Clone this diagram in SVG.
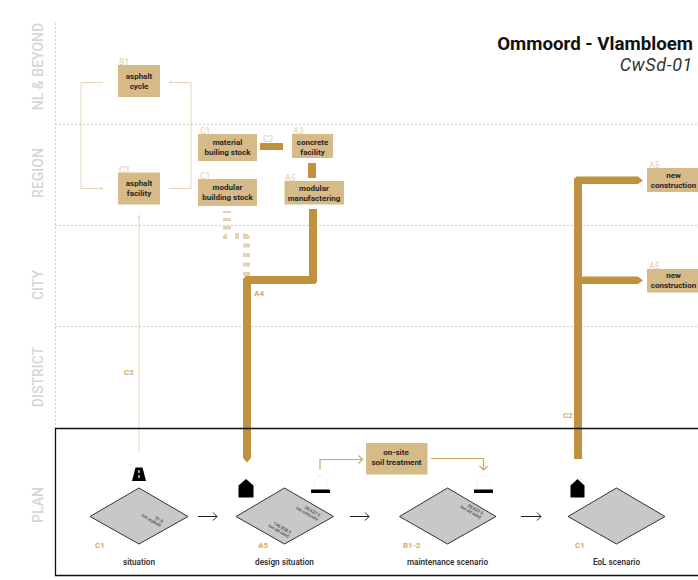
<svg xmlns="http://www.w3.org/2000/svg" width="698" height="580" viewBox="0 0 698 580">
<style>
text{font-family:Roboto,"Liberation Sans",sans-serif}
.scale{font-size:14px;font-weight:500;fill:#d6d6d6;text-anchor:middle}
.box{fill:#d6bb88}
.nt{font-size:8px;font-weight:700;fill:#262626;text-anchor:middle}
.pale{font-size:8.5px;font-weight:500;fill:#e6d8bd}
.lab{font-size:8px;font-weight:700;fill:#d2ab68}
.cap{font-size:8.2px;font-weight:600;fill:#333;text-anchor:middle}
.dia{fill:#c8c8c8;stroke:#333;stroke-width:1}
.q{font-size:4.4px;font-weight:500;fill:#444;text-anchor:end}
.grid{stroke:#cfcfcf;stroke-width:1;stroke-dasharray:2 2;fill:none}
.thin{fill:none;stroke:#e8d7b6;stroke-width:1}
.thick{fill:#c0923f}
.mid{fill:none;stroke:#cda65f;stroke-width:1.2}
.stepr{fill:none;stroke:#222;stroke-width:1}
.ghost{fill:none;stroke:#dedede;stroke-width:.8;stroke-dasharray:1.5 1.5}
</style>
<g id="scale-grid">
<path class="grid" d="M55.5 23V428M55 124.500H698M55 225.500H698M55 326.500H698"/>
<text class="scale" transform="translate(43 66.500) rotate(-90)">NL &amp; BEYOND</text>
<text class="scale" transform="translate(43 173) rotate(-90)">REGION</text>
<text class="scale" transform="translate(43 285) rotate(-90)">CITY</text>
<text class="scale" transform="translate(43 377) rotate(-90)">DISTRICT</text>
<text class="scale" transform="translate(43 505) rotate(-90)">PLAN</text>
</g>
<g id="title">
<text x="693" y="49.500" text-anchor="end" font-size="18.700" font-weight="700" fill="#111">Ommoord - Vlambloem</text>
<text x="693" y="71" text-anchor="end" font-size="18" letter-spacing=".6" font-style="italic" fill="#333">CwSd-01</text>
</g>
<g id="connectors">
<path class="thin" d="M103 82.500H81V188.500H103M169 188.500H191V82.500H169"/>
<path d="M103.500 188.500l-3-1.800v3.600zM168.500 82.500l3-1.800v3.600z" fill="#e8d7b6"/>
<path class="thin" d="M139 452V216"/>
<path d="M139 214.500l-1.800 3h3.600z" fill="#e8d7b6"/>
<g fill="#e4d3b2">
<rect x="223" y="211" width="8" height="2"/>
<rect x="223" y="218" width="8" height="3"/>
<rect x="223" y="226" width="8" height="3.500"/>
<path d="M223 236l4-3v6h-4zM235 233h4v6h-4zM243 233q7 1 7 5l-1 1h-6z"/>
<rect x="243" y="243.500" width="7" height="4"/>
<rect x="243" y="253" width="7" height="4"/>
<rect x="243" y="262.500" width="7" height="4"/>
<rect x="243" y="272" width="7" height="4"/>
</g>
<rect class="thick" x="260" y="143" width="23" height="7"/>
<rect class="thick" x="308" y="163" width="8" height="15"/>
<path class="thick" d="M309 209h8V282l-2 2H251V458l-4 4.500-4-4.500V279l3-3H309z"/>
<path class="thick" d="M574 459V179l2.500-2.500H638l5 4-5 3.500H582V276.500h56l5 4-5 3.500H582V459z"/>
<path class="mid" d="M320 470V459.500H362M358.500 455.500l4 4-4 4"/>
<path class="mid" d="M431 458.500H483.500V470M479.500 466l4 4 4-4"/>
<path class="stepr" d="M198 516.500H217M213 512.500l4 4-4 4M350 516.500H369M365 512.500l4 4-4 4M521 516.500H541M537 512.500l4 4-4 4"/>
<text class="lab" x="254" y="296">A4</text>
<text class="lab" x="124" y="375">C2</text>
<text class="lab" x="563" y="418">C2</text>
<text class="pale" x="263" y="142">C2</text>
</g>
<g id="plan-frame"><path d="M698 428.500H55.500V575.500H698" fill="none" stroke="#111" stroke-width="1.300"/></g>
<g id="asphalt-cycle"><rect class="box" x="118" y="65" width="42" height="32"/><text class="pale" x="119" y="65">B1</text><text class="nt" x="139" y="79">asphalt</text><text class="nt" x="139" y="89">cycle</text></g>
<g id="asphalt-facility"><rect class="box" x="118" y="172.500" width="42" height="32"/><text class="pale" x="119" y="173">C3</text><text class="nt" x="139" y="186">asphalt</text><text class="nt" x="139" y="196">facility</text></g>
<g id="material-building-stock"><rect class="box" x="198" y="134" width="59" height="27"/><text class="pale" x="200" y="134">C1</text><text class="nt" x="227.500" y="145">material</text><text class="nt" x="227.500" y="155">builing stock</text></g>
<g id="modular-building-stock"><rect class="box" x="198" y="179" width="59" height="27"/><text class="pale" x="200" y="179">C1</text><text class="nt" x="227.500" y="190">modular</text><text class="nt" x="227.500" y="200">building stock</text></g>
<g id="concrete-facility"><rect class="box" x="292" y="134" width="41" height="24"/><text class="pale" x="293" y="134">A3</text><text class="nt" x="312.500" y="145">concrete</text><text class="nt" x="312.500" y="155">facility</text></g>
<g id="modular-manufacturing"><rect class="box" x="284.500" y="181" width="59.500" height="23.500"/><text class="pale" x="285" y="181">A5</text><text class="nt" x="314" y="191">modular</text><text class="nt" x="314" y="200.500">manufactering</text></g>
<g id="new-construction-1"><rect class="box" x="647" y="168" width="51" height="24"/><text class="pale" x="649" y="168">A5</text><text class="nt" x="673.500" y="177.500">new</text><text class="nt" x="673.500" y="187.500">construction</text></g>
<g id="new-construction-2"><rect class="box" x="647" y="269" width="51" height="23.500"/><text class="pale" x="649" y="268.500">A5</text><text class="nt" x="673.500" y="278">new</text><text class="nt" x="673.500" y="288">construction</text></g>
<g id="on-site-soil-treatment"><rect class="box" x="366" y="443" width="61.500" height="31.500"/><text class="nt" x="396" y="455">on-site</text><text class="nt" x="396.500" y="464.500">soil treatment</text></g>
<g id="situation">
<path class="dia" d="M139 488L188 516.500 139 544 90 516.500Z"/>
<path d="M135.500 467.500h7l3.500 13.500h-14z" fill="#000"/><path d="M139 470v3M139 475v3" stroke="#fff" stroke-width="1.200"/>
<g transform="translate(160 527) rotate(30)"><text class="q" x="0" y="-4.500">51.0</text><text class="q" x="0" y="0">ton asphalt</text></g>
<text class="lab" x="95" y="547.500">C1</text><text class="cap" x="139" y="564.500">situation</text>
</g>
<g id="design-situation">
<path class="dia" d="M284.500 488L333.500 516.500 284.500 544 236 516.500Z"/>
<path d="M246 479l7.500 6.500v12h-15v-12z" fill="#000"/>
<g transform="translate(317 521) rotate(30)"><text class="q" x="0" y="-4.500">38 627.5</text><text class="q" x="0" y="0">ton concrete</text></g>
<g transform="translate(288 538) rotate(30)"><text class="q" x="0" y="-4.500">146 838.5</text><text class="q" x="0" y="0">ton dd sand</text></g>
<text class="lab" x="258" y="547.500">A5</text><text class="cap" x="284.500" y="564.500">design situation</text>
<g id="icon-a"><path class="ghost" d="M314 489v-8l6.500-6.500 6.500 6.500v8"/><rect x="311" y="489.500" width="19" height="3.500" fill="#000"/></g>
</g>
<g id="maintenance-scenario">
<path class="dia" d="M447.500 488L496 516.500 447.500 544 399.500 516.500Z"/>
<g transform="translate(480 519) rotate(30)"><text class="q" x="0" y="-4.500">38 627.5</text><text class="q" x="0" y="0">ton dd sand</text></g>
<text class="lab" x="403" y="547.500">B1-2</text><text class="cap" x="447.500" y="564.500">maintenance scenario</text>
<g id="icon-b"><path class="ghost" d="M477 489v-8l6.500-6.500 6.500 6.500v8"/><rect x="474" y="489.500" width="19" height="3.500" fill="#000"/></g>
</g>
<g id="eol-scenario">
<path class="dia" d="M616.500 488L665 516.500 616.500 544 568 516.500Z"/>
<path d="M577.500 479l7 6.500v12h-14v-12z" fill="#000"/>
<text class="lab" x="575" y="547.500">C1</text><text class="cap" x="616.500" y="564.500">EoL scenario</text>
</g>
</svg>
